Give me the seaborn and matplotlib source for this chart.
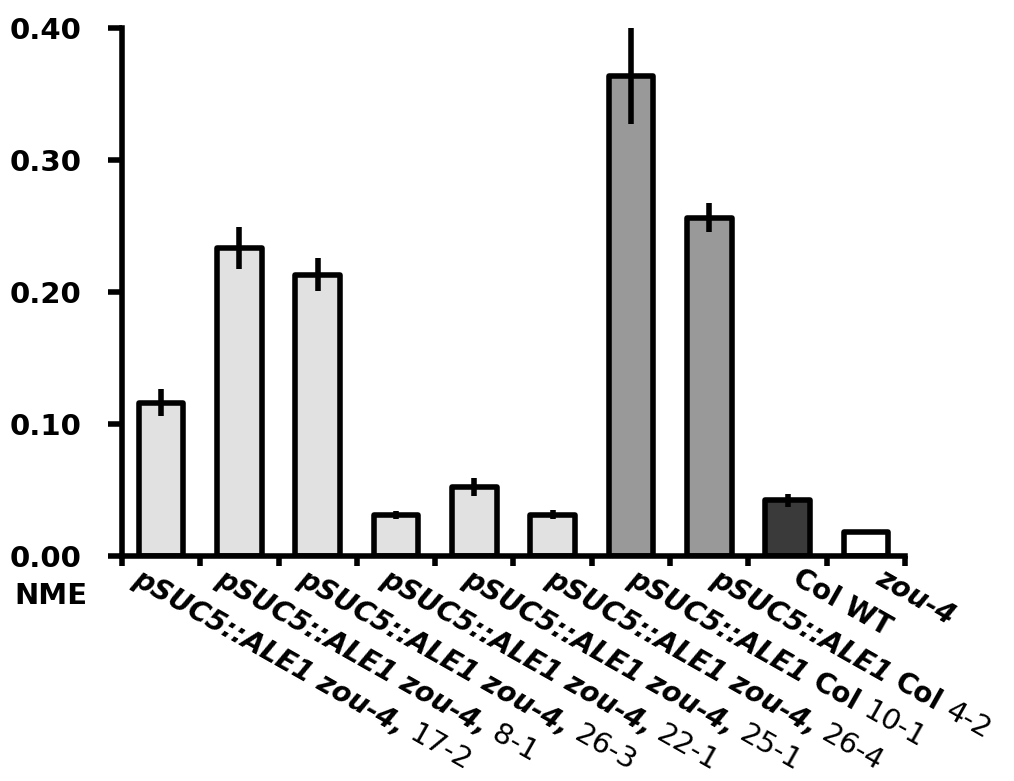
import numpy as np
import pandas as pd
import seaborn as sns
import matplotlib
matplotlib.use("Agg")
import matplotlib.pyplot as plt
from matplotlib import transforms
from matplotlib.font_manager import FontProperties

# ---- data -------------------------------------------------------------
categories = [
    "pSUC5::ALE1 zou-4, 17-2",
    "pSUC5::ALE1 zou-4, 8-1",
    "pSUC5::ALE1 zou-4, 26-3",
    "pSUC5::ALE1 zou-4, 22-1",
    "pSUC5::ALE1 zou-4, 25-1",
    "pSUC5::ALE1 zou-4, 26-4",
    "pSUC5::ALE1 Col 10-1",
    "pSUC5::ALE1 Col 4-2",
    "Col WT",
    "zou-4",
]
values = [0.116, 0.233, 0.213, 0.031, 0.052, 0.031, 0.364, 0.256, 0.042, 0.018]
errors = [0.0105, 0.016, 0.0125, 0.003, 0.007, 0.0035, 0.037, 0.011, 0.005, 0.0]
bar_colors = ["#e1e1e1"] * 6 + ["#999999"] * 2 + ["#3a3a3a", "#ffffff"]
y_ticks = [0.0, 0.1, 0.2, 0.3, 0.4]
y_tick_labels = ["0.00", "0.10", "0.20", "0.30", "0.40"]
y_caption = "NME"

# ---- style ------------------------------------------------------------
sns.set_theme(style="white")
plt.rcParams["font.family"] = ["DejaVu Sans"]
plt.rcParams["axes.linewidth"] = 4
plt.rcParams["text.color"] = "black"

DPI = 100
fig = plt.figure(figsize=(10.14, 7.81), dpi=DPI)
ax = fig.add_axes([0.1203, 0.2887, 0.7722, 0.6754])

df = pd.DataFrame({"line": categories, "value": values})
sns.barplot(
    data=df, x="line", y="value", hue="line", order=categories,
    hue_order=categories, palette=bar_colors, legend=False,
    edgecolor="black", linewidth=4, width=0.57, saturation=1, ax=ax,
)
for patch in ax.patches:
    patch.set_joinstyle("round")

ax.errorbar(
    np.arange(len(categories)), values, yerr=errors, fmt="none",
    ecolor="black", elinewidth=4, capsize=0, zorder=5,
)

# axes frame
sns.despine(ax=ax)
ax.set_xlim(-0.5, len(categories) - 0.5)
ax.set_ylim(0, 0.40)
ax.set_xlabel("")
ax.set_ylabel("")
ax.set_yticks(y_ticks)
ax.set_yticklabels(y_tick_labels, fontsize=21, fontweight="bold")
ax.tick_params(axis="y", direction="out", length=10, width=4, pad=19,
               left=True, color="black", labelcolor="black")
ax.set_xticks(np.arange(-0.5, len(categories), 1.0))
ax.set_xticklabels([])
ax.tick_params(axis="x", direction="out", length=7.5, width=4,
               bottom=True, color="black")
for sp in ("left", "bottom"):
    ax.spines[sp].set_color("black")
    ax.spines[sp].set_linewidth(4)
    ax.spines[sp].set_capstyle("projecting")

ax.annotate(y_caption, xy=(0, 0), xycoords=("axes fraction", "data"),
            xytext=(-24.5, -29), textcoords="offset points",
            ha="right", va="center", fontsize=21, fontweight="bold",
            color="black", annotation_clip=False)

# ---- rotated category labels with mixed styling ------------------------
label_size = 20
angle = -29.5
styles = {
    "bi": FontProperties(family="DejaVu Sans", weight="bold", style="oblique", size=label_size),
    "b": FontProperties(family="DejaVu Sans", weight="bold", size=label_size),
    "r": FontProperties(family="DejaVu Sans", weight="normal", size=label_size + 1),
}


def token_style(tok):
    if "pSUC5" in tok or tok.startswith("zou"):
        return "bi"
    if tok in ("Col", "WT"):
        return "b"
    return "r"


def segments(label):
    segs = []
    for tok in label.split(" "):
        st = token_style(tok)
        if segs and segs[-1][1] == st:
            segs[-1][0] += " " + tok
        else:
            segs.append([tok, st])
    return segs


renderer = fig.canvas.get_renderer()


def text_width(s, prop):
    w, _, _ = renderer.get_text_width_height_descent(s, prop, ismath=False)
    return w


base = ax.get_xaxis_transform()
cos_a, sin_a = np.cos(np.radians(angle)), np.sin(np.radians(angle))
n = len(categories)
px2pt = 72 / DPI
for i, label in enumerate(categories):
    # labels fan out at a slightly wider pitch than the bars
    x0_pt = (-10.8 + 4.2 * (i - (n - 1) / 2)) * px2pt
    y0_pt = -20.0
    dist = 0.0
    for txt, st in segments(label):
        prop = styles[st]
        off_x = x0_pt + dist * cos_a * px2pt
        off_y = y0_pt + dist * sin_a * px2pt
        tr = transforms.offset_copy(base, fig=fig, x=off_x, y=off_y, units="points")
        ax.text(i, 0, txt, transform=tr, rotation=angle, rotation_mode="anchor",
                ha="left", va="baseline", fontproperties=prop, color="black",
                clip_on=False)
        space = text_width("x x", prop) - text_width("xx", prop)
        dist += text_width(txt, prop) + space

fig.savefig("out.png", dpi=DPI, facecolor="white")
